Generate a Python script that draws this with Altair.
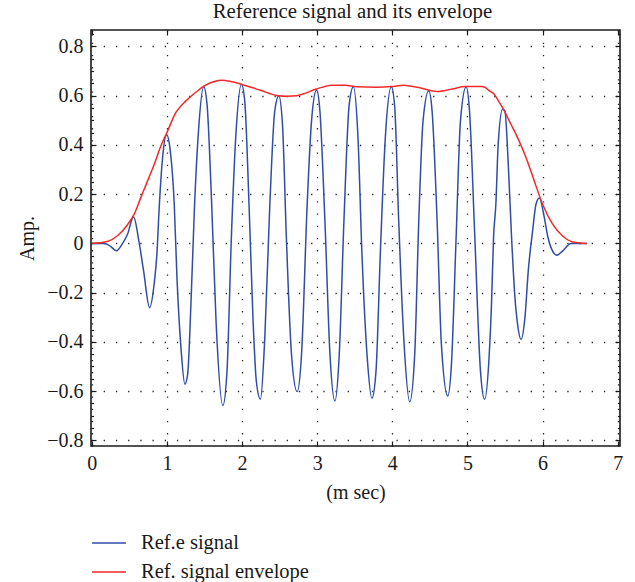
import altair as alt
import numpy as np
import pandas as pd

# Ref.e signal: time (ms) and amplitude samples
sig_t = [0.00, 0.17, 0.25, 0.33, 0.40, 0.476, 0.556, 0.63, 0.69, 0.77, 0.83, 0.867,
         0.90, 0.943, 0.996, 1.045, 1.098, 1.134, 1.187, 1.24, 1.276, 1.32, 1.365,
         1.418, 1.489, 1.534, 1.596, 1.654, 1.745, 1.80, 1.858, 1.916, 1.992, 2.036,
         2.093, 2.147, 2.19, 2.245, 2.303, 2.37, 2.436, 2.49, 2.538, 2.59, 2.658,
         2.733, 2.792, 2.867, 2.925, 2.992, 3.036, 3.103, 3.17, 3.236, 3.294, 3.356,
         3.427, 3.482, 3.543, 3.596, 3.663, 3.729, 3.783, 3.84, 3.907, 3.987, 4.032,
         4.085, 4.152, 4.232, 4.298, 4.352, 4.409, 4.485, 4.529, 4.596, 4.653, 4.738,
         4.787, 4.849, 4.907, 4.983, 5.027, 5.098, 5.173, 5.228, 5.29, 5.32, 5.347,
         5.378, 5.409, 5.467, 5.498, 5.543, 5.587, 5.632, 5.667, 5.712, 5.765, 5.809,
         5.867, 5.912, 5.956, 6.023, 6.067, 6.112, 6.192, 6.267, 6.378, 6.59]
sig_a = [0.000, 0.000, -0.012, -0.030, -0.005, 0.037, 0.108, 0.005, -0.112, -0.261,
         -0.166, -0.044, 0.159, 0.349, 0.441, 0.376, 0.159, -0.139, -0.423, -0.572,
         -0.532, -0.247, 0.132, 0.445, 0.636, 0.566, 0.159, -0.315, -0.658, -0.518,
         0.024, 0.430, 0.647, 0.579, 0.159, -0.315, -0.559, -0.633, -0.383, 0.159,
         0.539, 0.600, 0.484, 0.024, -0.450, -0.602, -0.450, 0.159, 0.498, 0.623,
         0.539, 0.091, -0.450, -0.640, -0.450, 0.091, 0.566, 0.636, 0.430, -0.044,
         -0.450, -0.629, -0.518, -0.044, 0.430, 0.636, 0.553, 0.091, -0.383, -0.643,
         -0.450, 0.091, 0.498, 0.620, 0.539, 0.091, -0.410, -0.620, -0.490, 0.024,
         0.498, 0.636, 0.539, 0.024, -0.518, -0.633, -0.450, -0.247, 0.024, 0.159,
         0.403, 0.545, 0.539, 0.322, 0.024, -0.220, -0.329, -0.390, -0.301, -0.112,
         0.051, 0.159, 0.184, 0.105, 0.030, -0.017, -0.048, -0.030, 0.000, 0.000]

# Ref. signal envelope
env_t = [0.00, 0.209, 0.343, 0.476, 0.565, 0.653, 0.743, 0.832, 0.92, 1.00, 1.12,
         1.253, 1.365, 1.498, 1.632, 1.73, 1.85, 1.99, 2.236, 2.48, 2.60, 2.725,
         2.99, 3.19, 3.37, 3.525, 3.79, 3.99, 4.152, 4.352, 4.596, 4.796, 4.973,
         5.196, 5.307, 5.356, 5.41, 5.467, 5.579, 5.667, 5.779, 5.889, 6.00, 6.133,
         6.267, 6.40, 6.59]
env_a = [0.000, 0.008, 0.031, 0.076, 0.119, 0.186, 0.254, 0.322, 0.396, 0.450, 0.532,
         0.579, 0.609, 0.640, 0.658, 0.663, 0.658, 0.647, 0.623, 0.600, 0.598, 0.600,
         0.627, 0.643, 0.643, 0.636, 0.634, 0.637, 0.643, 0.633, 0.617, 0.627, 0.637,
         0.637, 0.617, 0.606, 0.580, 0.552, 0.484, 0.430, 0.349, 0.254, 0.159, 0.078,
         0.030, 0.006, 0.000]

series_names = ["Ref.e signal", "Ref. signal envelope"]
x_ticks = [0, 1, 2, 3, 4, 5, 6, 7]
y_ticks = [-0.8, -0.6, -0.4, -0.2, 0, 0.2, 0.4, 0.6, 0.8]
y_minor = np.round(np.arange(-0.8, 0.8501, 0.05), 2).tolist()

X_DOM = [-0.01, 7.03]
Y_DOM = [-0.823, 0.867]
W, H = 529, 416
FONT = "Liberation Serif"
INK = "#1a1a1a"
BLUE = "#2F4DA6"
RED = "#F02A2A"

sig = pd.DataFrame({"t": sig_t, "a": sig_a, "series": series_names[0]})
env = pd.DataFrame({"t": env_t, "a": env_a, "series": series_names[1]})

xs = alt.Scale(domain=X_DOM, nice=False, zero=False)
ys = alt.Scale(domain=Y_DOM, nice=False, zero=False)
colour = alt.Scale(domain=series_names, range=[BLUE, RED])

grid_style = dict(grid=True, gridColor="#000000", gridDash=[1.3, 10.9],
                  gridWidth=1.3, gridOpacity=0.85)
major_test = "abs(datum.value * 5 - round(datum.value * 5)) < 0.001"
tick_len = {"condition": {"test": major_test, "value": 5}, "value": 2.5}

legend = alt.Legend(
    orient="none", legendX=0, legendY=495, direction="vertical", title=None,
    symbolType="stroke", symbolSize=1156, symbolStrokeWidth=1.6,
    labelFont=FONT, labelFontSize=20.5, labelColor=INK, labelOffset=14,
    labelLimit=0, rowPadding=-7, padding=0,
)

signal = alt.Chart(sig).mark_line(strokeWidth=1.5, interpolate="monotone").encode(
    x=alt.X("t:Q", scale=xs, axis=alt.Axis(
        orient="bottom", values=x_ticks, format="d", ticks=False, tickSize=0,
        domain=False, labelPadding=7, labelFlush=False, title="(m sec)",
        titlePadding=9, **grid_style)),
    y=alt.Y("a:Q", scale=ys, axis=alt.Axis(
        orient="left", values=y_ticks, ticks=False, tickSize=0,
        labelExpr="datum.value == 0 ? '0' : format(datum.value, '.1f')",
        domain=False, labelPadding=8, labelFlush=False, title="Amp.",
        titlePadding=9, **grid_style)),
    color=alt.Color("series:N", scale=colour, legend=legend),
)

envelope = alt.Chart(env).mark_line(strokeWidth=1.5, interpolate="monotone").encode(
    x=alt.X("t:Q", scale=xs, axis=None),
    y=alt.Y("a:Q", scale=ys, axis=None),
    color=alt.Color("series:N", scale=colour, legend=legend),
)

# inward ticks on the bottom and left edges of the frame
frame_a = alt.Chart(sig).mark_line(opacity=0).encode(
    x=alt.X("t:Q", scale=xs, axis=alt.Axis(
        orient="top", offset=-H, values=x_ticks, labels=False, domain=False,
        grid=False, tickSize=5, tickWidth=1.2, tickColor=INK, title=None)),
    y=alt.Y("a:Q", scale=ys, axis=alt.Axis(
        orient="right", offset=-W, values=y_minor, labels=False, domain=False,
        grid=False, tickSize=tick_len, tickWidth=1.2, tickColor=INK, title=None)),
)

# inward ticks on the top and right edges of the frame
frame_b = alt.Chart(sig).mark_line(opacity=0).encode(
    x=alt.X("t:Q", scale=xs, axis=alt.Axis(
        orient="bottom", offset=-H, values=x_ticks, labels=False, domain=False,
        grid=False, tickSize=5, tickWidth=1.2, tickColor=INK, title=None)),
    y=alt.Y("a:Q", scale=ys, axis=alt.Axis(
        orient="left", offset=-W, values=y_minor, labels=False, domain=False,
        grid=False, tickSize=tick_len, tickWidth=1.2, tickColor=INK, title=None)),
)

chart = alt.layer(signal, envelope, frame_a, frame_b).resolve_scale(
    x="independent", y="independent"
).properties(
    width=W, height=H,
    padding={"left": 91, "top": 30, "right": 15, "bottom": 136},
    autosize=alt.AutoSizeParams(type="none"),
    title=alt.TitleParams("Reference signal and its envelope", font=FONT, fontSize=20.8,
                          fontWeight="normal", color=INK, frame="group",
                          anchor="middle", offset=7, dx=-3),
    background="white",
).configure_view(
    stroke=INK, strokeWidth=1.6
).configure_axis(
    labelFont=FONT, labelFontSize=20, labelColor=INK,
    titleFont=FONT, titleFontSize=20, titleFontWeight="normal", titleColor=INK,
)

chart.save("out.html", embed_options={"renderer": "svg", "actions": False})
